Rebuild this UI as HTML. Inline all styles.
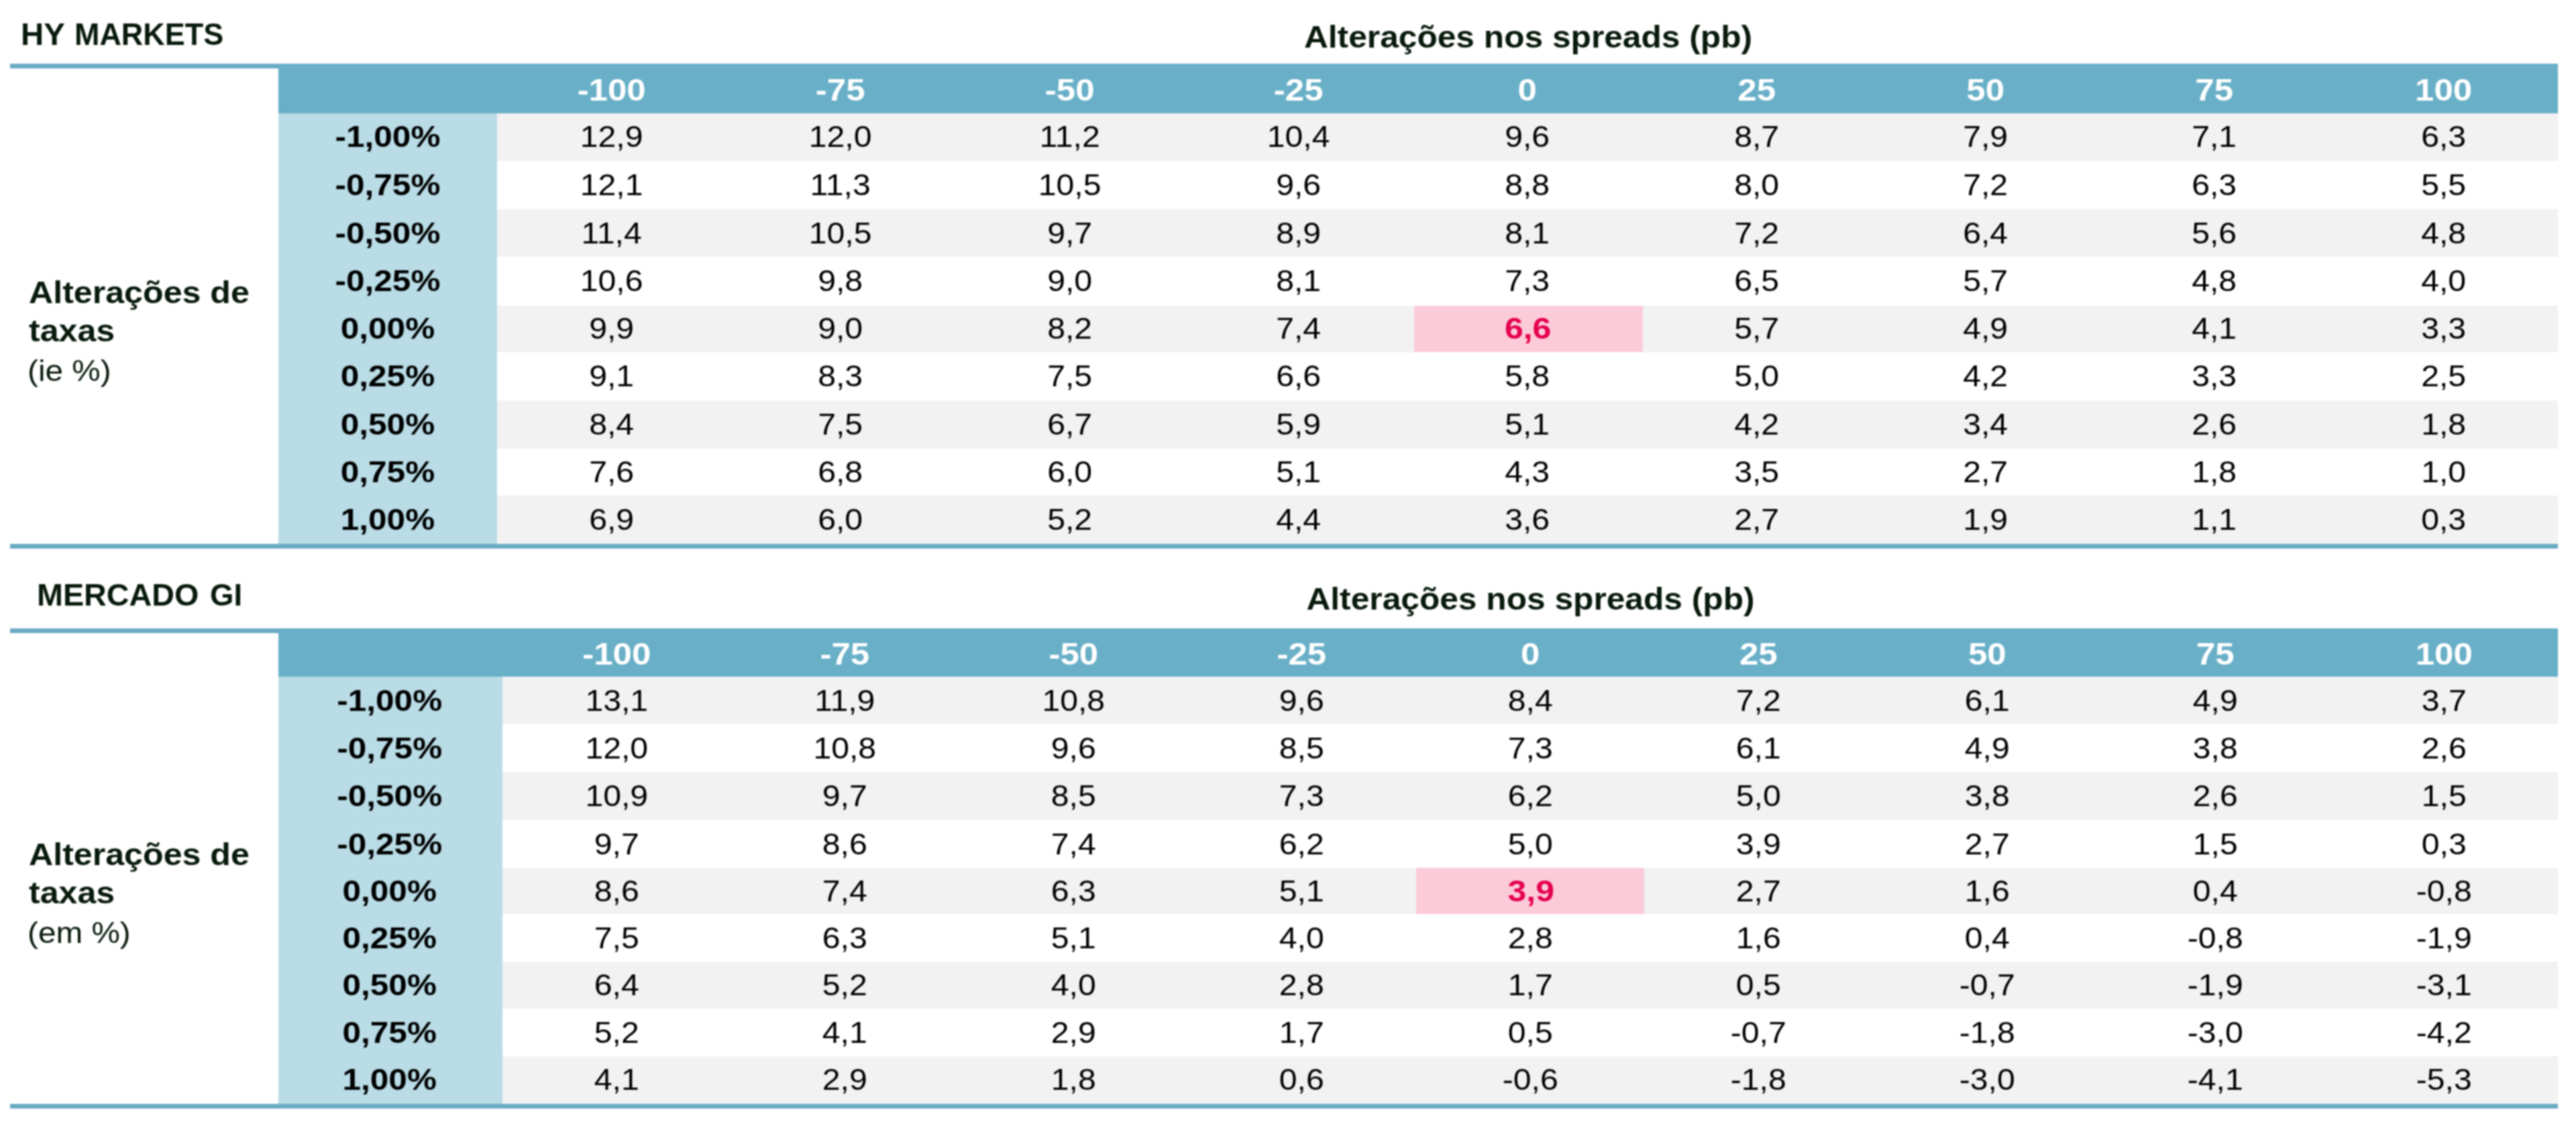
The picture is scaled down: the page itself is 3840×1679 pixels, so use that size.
<!DOCTYPE html>
<html><head><meta charset="utf-8"><title>Tables</title><style>
*{margin:0;padding:0;box-sizing:border-box}
html,body{width:3840px;height:1679px;background:#fff;overflow:hidden}
body{position:relative;font-family:"Liberation Sans",sans-serif;font-size:45px;color:#000}
#w{position:absolute;left:0;top:0;width:3840px;height:1679px;background:#fff;filter:blur(0.8px)}
.a{position:absolute}
.ln{background:#6aabc3}
.hd{background:#68afc7}
.c0{background:#b9dce6}
.g{background:#f2f2f2}
.pk{background:#fccbd9}
.t{position:absolute;white-space:nowrap;line-height:52px;height:52px}
.tt{font-size:46.5px;transform-origin:0 50%}
.st{font-size:46px;transform:scaleX(1.08)}
.s1,.s2{font-size:46px;transform:scaleX(1.09);transform-origin:0 50%}
.s3{transform:scaleX(1.06);transform-origin:0 50%}
.h{font-size:47px;transform:scaleX(1.085)}
.l{transform:scaleX(1.10)}
.v{transform:scaleX(1.07)}
.r.v{transform:scaleX(1.11)}

.b{font-weight:bold}
.dk{color:#081a0c}
.w{color:#fff}
.r{color:#e5004d}
.c{text-align:center}
</style></head><body><div id="w">
<div class="a ln" style="left:15px;top:95px;width:3798px;height:6.5px"></div>
<div class="a hd" style="left:415px;top:95px;width:3398px;height:73.5px"></div>
<div class="a c0" style="left:415px;top:168.5px;width:326px;height:642px"></div>
<div class="a g" style="left:741px;top:168.5px;width:3072px;height:71px"></div>
<div class="a g" style="left:741px;top:312px;width:3072px;height:71px"></div>
<div class="a g" style="left:741px;top:455.5px;width:3072px;height:69.5px"></div>
<div class="a g" style="left:741px;top:596.5px;width:3072px;height:72px"></div>
<div class="a g" style="left:741px;top:738.5px;width:3072px;height:72px"></div>
<div class="a pk" style="left:2107.63px;top:455.5px;width:341.333px;height:69.5px"></div>
<div class="a ln" style="left:15px;top:810.5px;width:3798px;height:7.5px"></div>
<div class="t b dk tt" style="left:30.5px;top:24.89px;transform:scaleX(1.02)">HY</div>
<div class="t b dk tt" style="left:111px;top:24.89px;transform:scaleX(0.966)">MARKETS</div>
<div class="t b dk c st" style="left:1846px;top:29.06px;width:864px;">Alterações nos spreads (pb)</div>
<div class="t b dk s1" style="left:42.5px;top:410.06px;">Alterações de</div>
<div class="t b dk s2" style="left:42.5px;top:467.06px;">taxas</div>
<div class="t dk s3" style="left:41px;top:526.91px;">(ie %)</div>
<div class="t b w c h" style="left:741px;top:108.05px;width:341.333px;">-100</div>
<div class="t b w c h" style="left:1082.33px;top:108.05px;width:341.333px;">-75</div>
<div class="t b w c h" style="left:1423.67px;top:108.05px;width:341.333px;">-50</div>
<div class="t b w c h" style="left:1765px;top:108.05px;width:341.333px;">-25</div>
<div class="t b w c h" style="left:2106.33px;top:108.05px;width:341.333px;">0</div>
<div class="t b w c h" style="left:2447.67px;top:108.05px;width:341.333px;">25</div>
<div class="t b w c h" style="left:2789px;top:108.05px;width:341.333px;">50</div>
<div class="t b w c h" style="left:3130.33px;top:108.05px;width:341.333px;">75</div>
<div class="t b w c h" style="left:3471.67px;top:108.05px;width:341.333px;">100</div>
<div class="t b c l" style="left:415px;top:178.00px;width:326px;">-1,00%</div>
<div class="t c v vg" style="left:741px;top:178.00px;width:341.333px;">12,9</div>
<div class="t c v vg" style="left:1082.33px;top:178.00px;width:341.333px;">12,0</div>
<div class="t c v vg" style="left:1423.67px;top:178.00px;width:341.333px;">11,2</div>
<div class="t c v vg" style="left:1765px;top:178.00px;width:341.333px;">10,4</div>
<div class="t c v vg" style="left:2106.33px;top:178.00px;width:341.333px;">9,6</div>
<div class="t c v vg" style="left:2447.67px;top:178.00px;width:341.333px;">8,7</div>
<div class="t c v vg" style="left:2789px;top:178.00px;width:341.333px;">7,9</div>
<div class="t c v vg" style="left:3130.33px;top:178.00px;width:341.333px;">7,1</div>
<div class="t c v vg" style="left:3471.67px;top:178.00px;width:341.333px;">6,3</div>
<div class="t b c l" style="left:415px;top:249.75px;width:326px;">-0,75%</div>
<div class="t c v vw" style="left:741px;top:249.75px;width:341.333px;">12,1</div>
<div class="t c v vw" style="left:1082.33px;top:249.75px;width:341.333px;">11,3</div>
<div class="t c v vw" style="left:1423.67px;top:249.75px;width:341.333px;">10,5</div>
<div class="t c v vw" style="left:1765px;top:249.75px;width:341.333px;">9,6</div>
<div class="t c v vw" style="left:2106.33px;top:249.75px;width:341.333px;">8,8</div>
<div class="t c v vw" style="left:2447.67px;top:249.75px;width:341.333px;">8,0</div>
<div class="t c v vw" style="left:2789px;top:249.75px;width:341.333px;">7,2</div>
<div class="t c v vw" style="left:3130.33px;top:249.75px;width:341.333px;">6,3</div>
<div class="t c v vw" style="left:3471.67px;top:249.75px;width:341.333px;">5,5</div>
<div class="t b c l" style="left:415px;top:321.50px;width:326px;">-0,50%</div>
<div class="t c v vg" style="left:741px;top:321.50px;width:341.333px;">11,4</div>
<div class="t c v vg" style="left:1082.33px;top:321.50px;width:341.333px;">10,5</div>
<div class="t c v vg" style="left:1423.67px;top:321.50px;width:341.333px;">9,7</div>
<div class="t c v vg" style="left:1765px;top:321.50px;width:341.333px;">8,9</div>
<div class="t c v vg" style="left:2106.33px;top:321.50px;width:341.333px;">8,1</div>
<div class="t c v vg" style="left:2447.67px;top:321.50px;width:341.333px;">7,2</div>
<div class="t c v vg" style="left:2789px;top:321.50px;width:341.333px;">6,4</div>
<div class="t c v vg" style="left:3130.33px;top:321.50px;width:341.333px;">5,6</div>
<div class="t c v vg" style="left:3471.67px;top:321.50px;width:341.333px;">4,8</div>
<div class="t b c l" style="left:415px;top:393.25px;width:326px;">-0,25%</div>
<div class="t c v vw" style="left:741px;top:393.25px;width:341.333px;">10,6</div>
<div class="t c v vw" style="left:1082.33px;top:393.25px;width:341.333px;">9,8</div>
<div class="t c v vw" style="left:1423.67px;top:393.25px;width:341.333px;">9,0</div>
<div class="t c v vw" style="left:1765px;top:393.25px;width:341.333px;">8,1</div>
<div class="t c v vw" style="left:2106.33px;top:393.25px;width:341.333px;">7,3</div>
<div class="t c v vw" style="left:2447.67px;top:393.25px;width:341.333px;">6,5</div>
<div class="t c v vw" style="left:2789px;top:393.25px;width:341.333px;">5,7</div>
<div class="t c v vw" style="left:3130.33px;top:393.25px;width:341.333px;">4,8</div>
<div class="t c v vw" style="left:3471.67px;top:393.25px;width:341.333px;">4,0</div>
<div class="t b c l" style="left:415px;top:464.25px;width:326px;">0,00%</div>
<div class="t c v vg" style="left:741px;top:464.25px;width:341.333px;">9,9</div>
<div class="t c v vg" style="left:1082.33px;top:464.25px;width:341.333px;">9,0</div>
<div class="t c v vg" style="left:1423.67px;top:464.25px;width:341.333px;">8,2</div>
<div class="t c v vg" style="left:1765px;top:464.25px;width:341.333px;">7,4</div>
<div class="t b r c v" style="left:2107.33px;top:464.25px;width:341.333px;">6,6</div>
<div class="t c v vg" style="left:2447.67px;top:464.25px;width:341.333px;">5,7</div>
<div class="t c v vg" style="left:2789px;top:464.25px;width:341.333px;">4,9</div>
<div class="t c v vg" style="left:3130.33px;top:464.25px;width:341.333px;">4,1</div>
<div class="t c v vg" style="left:3471.67px;top:464.25px;width:341.333px;">3,3</div>
<div class="t b c l" style="left:415px;top:534.75px;width:326px;">0,25%</div>
<div class="t c v vw" style="left:741px;top:534.75px;width:341.333px;">9,1</div>
<div class="t c v vw" style="left:1082.33px;top:534.75px;width:341.333px;">8,3</div>
<div class="t c v vw" style="left:1423.67px;top:534.75px;width:341.333px;">7,5</div>
<div class="t c v vw" style="left:1765px;top:534.75px;width:341.333px;">6,6</div>
<div class="t c v vw" style="left:2106.33px;top:534.75px;width:341.333px;">5,8</div>
<div class="t c v vw" style="left:2447.67px;top:534.75px;width:341.333px;">5,0</div>
<div class="t c v vw" style="left:2789px;top:534.75px;width:341.333px;">4,2</div>
<div class="t c v vw" style="left:3130.33px;top:534.75px;width:341.333px;">3,3</div>
<div class="t c v vw" style="left:3471.67px;top:534.75px;width:341.333px;">2,5</div>
<div class="t b c l" style="left:415px;top:606.50px;width:326px;">0,50%</div>
<div class="t c v vg" style="left:741px;top:606.50px;width:341.333px;">8,4</div>
<div class="t c v vg" style="left:1082.33px;top:606.50px;width:341.333px;">7,5</div>
<div class="t c v vg" style="left:1423.67px;top:606.50px;width:341.333px;">6,7</div>
<div class="t c v vg" style="left:1765px;top:606.50px;width:341.333px;">5,9</div>
<div class="t c v vg" style="left:2106.33px;top:606.50px;width:341.333px;">5,1</div>
<div class="t c v vg" style="left:2447.67px;top:606.50px;width:341.333px;">4,2</div>
<div class="t c v vg" style="left:2789px;top:606.50px;width:341.333px;">3,4</div>
<div class="t c v vg" style="left:3130.33px;top:606.50px;width:341.333px;">2,6</div>
<div class="t c v vg" style="left:3471.67px;top:606.50px;width:341.333px;">1,8</div>
<div class="t b c l" style="left:415px;top:677.50px;width:326px;">0,75%</div>
<div class="t c v vw" style="left:741px;top:677.50px;width:341.333px;">7,6</div>
<div class="t c v vw" style="left:1082.33px;top:677.50px;width:341.333px;">6,8</div>
<div class="t c v vw" style="left:1423.67px;top:677.50px;width:341.333px;">6,0</div>
<div class="t c v vw" style="left:1765px;top:677.50px;width:341.333px;">5,1</div>
<div class="t c v vw" style="left:2106.33px;top:677.50px;width:341.333px;">4,3</div>
<div class="t c v vw" style="left:2447.67px;top:677.50px;width:341.333px;">3,5</div>
<div class="t c v vw" style="left:2789px;top:677.50px;width:341.333px;">2,7</div>
<div class="t c v vw" style="left:3130.33px;top:677.50px;width:341.333px;">1,8</div>
<div class="t c v vw" style="left:3471.67px;top:677.50px;width:341.333px;">1,0</div>
<div class="t b c l" style="left:415px;top:748.50px;width:326px;">1,00%</div>
<div class="t c v vg" style="left:741px;top:748.50px;width:341.333px;">6,9</div>
<div class="t c v vg" style="left:1082.33px;top:748.50px;width:341.333px;">6,0</div>
<div class="t c v vg" style="left:1423.67px;top:748.50px;width:341.333px;">5,2</div>
<div class="t c v vg" style="left:1765px;top:748.50px;width:341.333px;">4,4</div>
<div class="t c v vg" style="left:2106.33px;top:748.50px;width:341.333px;">3,6</div>
<div class="t c v vg" style="left:2447.67px;top:748.50px;width:341.333px;">2,7</div>
<div class="t c v vg" style="left:2789px;top:748.50px;width:341.333px;">1,9</div>
<div class="t c v vg" style="left:3130.33px;top:748.50px;width:341.333px;">1,1</div>
<div class="t c v vg" style="left:3471.67px;top:748.50px;width:341.333px;">0,3</div>
<div class="a ln" style="left:15px;top:937px;width:3798px;height:7px"></div>
<div class="a hd" style="left:415px;top:937px;width:3398px;height:72.4px"></div>
<div class="a c0" style="left:415px;top:1009.4px;width:333.5px;height:636.3px"></div>
<div class="a g" style="left:748.5px;top:1009.4px;width:3064.5px;height:70.9px"></div>
<div class="a g" style="left:748.5px;top:1151.2px;width:3064.5px;height:71.8px"></div>
<div class="a g" style="left:748.5px;top:1294.3px;width:3064.5px;height:68.9px"></div>
<div class="a g" style="left:748.5px;top:1434.1px;width:3064.5px;height:70.4px"></div>
<div class="a g" style="left:748.5px;top:1574.5px;width:3064.5px;height:71.2px"></div>
<div class="a pk" style="left:2110.5px;top:1294.3px;width:340.5px;height:68.9px"></div>
<div class="a ln" style="left:15px;top:1645.7px;width:3798px;height:7.5px"></div>
<div class="t b dk tt" style="left:55px;top:860.89px;transform:scaleX(1.005)">MERCADO</div>
<div class="t b dk tt" style="left:313px;top:860.89px;transform:scaleX(0.98)">GI</div>
<div class="t b dk c st" style="left:1850px;top:867.06px;width:863px;">Alterações nos spreads (pb)</div>
<div class="t b dk s1" style="left:42.5px;top:1248.06px;">Alterações de</div>
<div class="t b dk s2" style="left:42.5px;top:1305.06px;">taxas</div>
<div class="t dk s3" style="left:41px;top:1364.91px;">(em %)</div>
<div class="t b w c h" style="left:748.5px;top:948.50px;width:340.5px;">-100</div>
<div class="t b w c h" style="left:1089px;top:948.50px;width:340.5px;">-75</div>
<div class="t b w c h" style="left:1429.5px;top:948.50px;width:340.5px;">-50</div>
<div class="t b w c h" style="left:1770px;top:948.50px;width:340.5px;">-25</div>
<div class="t b w c h" style="left:2110.5px;top:948.50px;width:340.5px;">0</div>
<div class="t b w c h" style="left:2451px;top:948.50px;width:340.5px;">25</div>
<div class="t b w c h" style="left:2791.5px;top:948.50px;width:340.5px;">50</div>
<div class="t b w c h" style="left:3132px;top:948.50px;width:340.5px;">75</div>
<div class="t b w c h" style="left:3472.5px;top:948.50px;width:340.5px;">100</div>
<div class="t b c l" style="left:413.5px;top:1018.85px;width:333.5px;">-1,00%</div>
<div class="t c v vg" style="left:748.5px;top:1018.85px;width:340.5px;">13,1</div>
<div class="t c v vg" style="left:1089px;top:1018.85px;width:340.5px;">11,9</div>
<div class="t c v vg" style="left:1429.5px;top:1018.85px;width:340.5px;">10,8</div>
<div class="t c v vg" style="left:1770px;top:1018.85px;width:340.5px;">9,6</div>
<div class="t c v vg" style="left:2110.5px;top:1018.85px;width:340.5px;">8,4</div>
<div class="t c v vg" style="left:2451px;top:1018.85px;width:340.5px;">7,2</div>
<div class="t c v vg" style="left:2791.5px;top:1018.85px;width:340.5px;">6,1</div>
<div class="t c v vg" style="left:3132px;top:1018.85px;width:340.5px;">4,9</div>
<div class="t c v vg" style="left:3472.5px;top:1018.85px;width:340.5px;">3,7</div>
<div class="t b c l" style="left:413.5px;top:1089.75px;width:333.5px;">-0,75%</div>
<div class="t c v vw" style="left:748.5px;top:1089.75px;width:340.5px;">12,0</div>
<div class="t c v vw" style="left:1089px;top:1089.75px;width:340.5px;">10,8</div>
<div class="t c v vw" style="left:1429.5px;top:1089.75px;width:340.5px;">9,6</div>
<div class="t c v vw" style="left:1770px;top:1089.75px;width:340.5px;">8,5</div>
<div class="t c v vw" style="left:2110.5px;top:1089.75px;width:340.5px;">7,3</div>
<div class="t c v vw" style="left:2451px;top:1089.75px;width:340.5px;">6,1</div>
<div class="t c v vw" style="left:2791.5px;top:1089.75px;width:340.5px;">4,9</div>
<div class="t c v vw" style="left:3132px;top:1089.75px;width:340.5px;">3,8</div>
<div class="t c v vw" style="left:3472.5px;top:1089.75px;width:340.5px;">2,6</div>
<div class="t b c l" style="left:413.5px;top:1161.10px;width:333.5px;">-0,50%</div>
<div class="t c v vg" style="left:748.5px;top:1161.10px;width:340.5px;">10,9</div>
<div class="t c v vg" style="left:1089px;top:1161.10px;width:340.5px;">9,7</div>
<div class="t c v vg" style="left:1429.5px;top:1161.10px;width:340.5px;">8,5</div>
<div class="t c v vg" style="left:1770px;top:1161.10px;width:340.5px;">7,3</div>
<div class="t c v vg" style="left:2110.5px;top:1161.10px;width:340.5px;">6,2</div>
<div class="t c v vg" style="left:2451px;top:1161.10px;width:340.5px;">5,0</div>
<div class="t c v vg" style="left:2791.5px;top:1161.10px;width:340.5px;">3,8</div>
<div class="t c v vg" style="left:3132px;top:1161.10px;width:340.5px;">2,6</div>
<div class="t c v vg" style="left:3472.5px;top:1161.10px;width:340.5px;">1,5</div>
<div class="t b c l" style="left:413.5px;top:1232.65px;width:333.5px;">-0,25%</div>
<div class="t c v vw" style="left:748.5px;top:1232.65px;width:340.5px;">9,7</div>
<div class="t c v vw" style="left:1089px;top:1232.65px;width:340.5px;">8,6</div>
<div class="t c v vw" style="left:1429.5px;top:1232.65px;width:340.5px;">7,4</div>
<div class="t c v vw" style="left:1770px;top:1232.65px;width:340.5px;">6,2</div>
<div class="t c v vw" style="left:2110.5px;top:1232.65px;width:340.5px;">5,0</div>
<div class="t c v vw" style="left:2451px;top:1232.65px;width:340.5px;">3,9</div>
<div class="t c v vw" style="left:2791.5px;top:1232.65px;width:340.5px;">2,7</div>
<div class="t c v vw" style="left:3132px;top:1232.65px;width:340.5px;">1,5</div>
<div class="t c v vw" style="left:3472.5px;top:1232.65px;width:340.5px;">0,3</div>
<div class="t b c l" style="left:413.5px;top:1302.75px;width:333.5px;">0,00%</div>
<div class="t c v vg" style="left:748.5px;top:1302.75px;width:340.5px;">8,6</div>
<div class="t c v vg" style="left:1089px;top:1302.75px;width:340.5px;">7,4</div>
<div class="t c v vg" style="left:1429.5px;top:1302.75px;width:340.5px;">6,3</div>
<div class="t c v vg" style="left:1770px;top:1302.75px;width:340.5px;">5,1</div>
<div class="t b r c v" style="left:2111.5px;top:1302.75px;width:340.5px;">3,9</div>
<div class="t c v vg" style="left:2451px;top:1302.75px;width:340.5px;">2,7</div>
<div class="t c v vg" style="left:2791.5px;top:1302.75px;width:340.5px;">1,6</div>
<div class="t c v vg" style="left:3132px;top:1302.75px;width:340.5px;">0,4</div>
<div class="t c v vg" style="left:3472.5px;top:1302.75px;width:340.5px;">-0,8</div>
<div class="t b c l" style="left:413.5px;top:1372.65px;width:333.5px;">0,25%</div>
<div class="t c v vw" style="left:748.5px;top:1372.65px;width:340.5px;">7,5</div>
<div class="t c v vw" style="left:1089px;top:1372.65px;width:340.5px;">6,3</div>
<div class="t c v vw" style="left:1429.5px;top:1372.65px;width:340.5px;">5,1</div>
<div class="t c v vw" style="left:1770px;top:1372.65px;width:340.5px;">4,0</div>
<div class="t c v vw" style="left:2110.5px;top:1372.65px;width:340.5px;">2,8</div>
<div class="t c v vw" style="left:2451px;top:1372.65px;width:340.5px;">1,6</div>
<div class="t c v vw" style="left:2791.5px;top:1372.65px;width:340.5px;">0,4</div>
<div class="t c v vw" style="left:3132px;top:1372.65px;width:340.5px;">-0,8</div>
<div class="t c v vw" style="left:3472.5px;top:1372.65px;width:340.5px;">-1,9</div>
<div class="t b c l" style="left:413.5px;top:1443.30px;width:333.5px;">0,50%</div>
<div class="t c v vg" style="left:748.5px;top:1443.30px;width:340.5px;">6,4</div>
<div class="t c v vg" style="left:1089px;top:1443.30px;width:340.5px;">5,2</div>
<div class="t c v vg" style="left:1429.5px;top:1443.30px;width:340.5px;">4,0</div>
<div class="t c v vg" style="left:1770px;top:1443.30px;width:340.5px;">2,8</div>
<div class="t c v vg" style="left:2110.5px;top:1443.30px;width:340.5px;">1,7</div>
<div class="t c v vg" style="left:2451px;top:1443.30px;width:340.5px;">0,5</div>
<div class="t c v vg" style="left:2791.5px;top:1443.30px;width:340.5px;">-0,7</div>
<div class="t c v vg" style="left:3132px;top:1443.30px;width:340.5px;">-1,9</div>
<div class="t c v vg" style="left:3472.5px;top:1443.30px;width:340.5px;">-3,1</div>
<div class="t b c l" style="left:413.5px;top:1513.50px;width:333.5px;">0,75%</div>
<div class="t c v vw" style="left:748.5px;top:1513.50px;width:340.5px;">5,2</div>
<div class="t c v vw" style="left:1089px;top:1513.50px;width:340.5px;">4,1</div>
<div class="t c v vw" style="left:1429.5px;top:1513.50px;width:340.5px;">2,9</div>
<div class="t c v vw" style="left:1770px;top:1513.50px;width:340.5px;">1,7</div>
<div class="t c v vw" style="left:2110.5px;top:1513.50px;width:340.5px;">0,5</div>
<div class="t c v vw" style="left:2451px;top:1513.50px;width:340.5px;">-0,7</div>
<div class="t c v vw" style="left:2791.5px;top:1513.50px;width:340.5px;">-1,8</div>
<div class="t c v vw" style="left:3132px;top:1513.50px;width:340.5px;">-3,0</div>
<div class="t c v vw" style="left:3472.5px;top:1513.50px;width:340.5px;">-4,2</div>
<div class="t b c l" style="left:413.5px;top:1584.10px;width:333.5px;">1,00%</div>
<div class="t c v vg" style="left:748.5px;top:1584.10px;width:340.5px;">4,1</div>
<div class="t c v vg" style="left:1089px;top:1584.10px;width:340.5px;">2,9</div>
<div class="t c v vg" style="left:1429.5px;top:1584.10px;width:340.5px;">1,8</div>
<div class="t c v vg" style="left:1770px;top:1584.10px;width:340.5px;">0,6</div>
<div class="t c v vg" style="left:2110.5px;top:1584.10px;width:340.5px;">-0,6</div>
<div class="t c v vg" style="left:2451px;top:1584.10px;width:340.5px;">-1,8</div>
<div class="t c v vg" style="left:2791.5px;top:1584.10px;width:340.5px;">-3,0</div>
<div class="t c v vg" style="left:3132px;top:1584.10px;width:340.5px;">-4,1</div>
<div class="t c v vg" style="left:3472.5px;top:1584.10px;width:340.5px;">-5,3</div>
</div></body></html>
